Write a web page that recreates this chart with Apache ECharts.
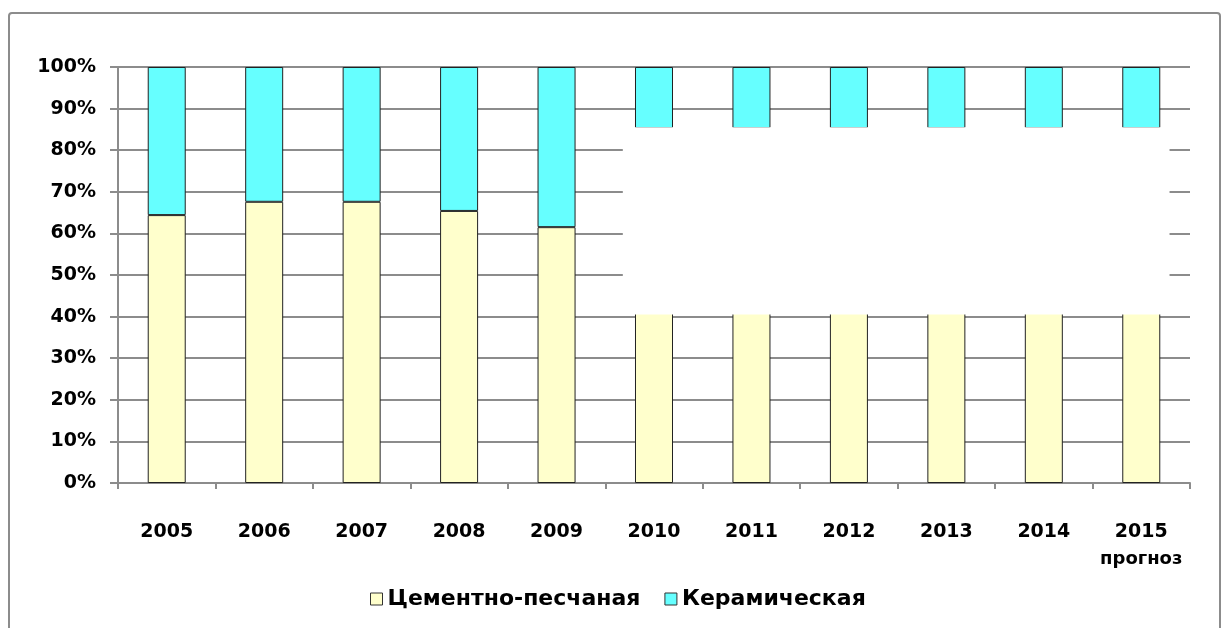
<!DOCTYPE html>
<html>
<head>
<meta charset="utf-8">
<script src="https://cdn.jsdelivr.net/npm/echarts@6/dist/echarts.min.js"></script>
<style>
html,body{margin:0;padding:0;background:#fff;}
#chart{width:1224px;height:628px;}
</style>
</head>
<body>
<div id="chart"></div>
<script>
const categories = ['2005','2006','2007','2008','2009','2010','2011','2012','2013','2014','2015'];
const cementSand = [64.4, 67.6, 67.6, 65.4, 61.5, 85.3, 85.3, 85.3, 85.3, 85.3, 85.3];
const ceramic = [35.6, 32.4, 32.4, 34.6, 38.5, 14.7, 14.7, 14.7, 14.7, 14.7, 14.7];
const yTicks = [0, 10, 20, 30, 40, 50, 60, 70, 80, 90, 100];
const seriesNames = ['Цементно-песчаная', 'Керамическая'];
const forecastNote = 'прогноз';

const FONT = '"DejaVu Sans", Verdana, sans-serif';
const chart = echarts.init(document.getElementById('chart'));

const option = {
  backgroundColor: '#ffffff',
  animation: false,
  grid: { left: 118, right: 34, top: 67, bottom: 145, containLabel: false },
  legend: {
    data: seriesNames,
    left: 365,
    top: 583,
    itemWidth: 12,
    itemHeight: 12,
    itemGap: 24,
    icon: 'rect',
    textStyle: { fontFamily: FONT, fontWeight: 'bold', fontSize: 22, color: '#000' },
    itemStyle: { borderColor: '#333', borderWidth: 1 }
  },
  xAxis: {
    type: 'category',
    data: categories,
    axisLine: { show: true, lineStyle: { color: '#8c8c8c', width: 2 } },
    axisTick: { show: true, alignWithLabel: false, length: 6, lineStyle: { color: '#8c8c8c', width: 2 } },
    axisLabel: {
      margin: 32,
      interval: 0,
      formatter: function (v) {
        return v === categories[categories.length - 1] ? '{a|' + v + '}\n{b|' + forecastNote + '}' : '{a|' + v + '}';
      },
      rich: {
        a: { fontFamily: FONT, fontWeight: 'bold', fontSize: 19, color: '#000', lineHeight: 34 },
        b: { fontFamily: FONT, fontWeight: 'bold', fontSize: 18, color: '#000', lineHeight: 20 }
      }
    },
    splitLine: { show: false }
  },
  yAxis: {
    type: 'value',
    min: 0,
    max: 100,
    interval: 10,
    axisLine: { show: true, lineStyle: { color: '#8c8c8c', width: 2 } },
    axisTick: { show: true, length: 8, lineStyle: { color: '#8c8c8c', width: 2 } },
    axisLabel: {
      margin: 22,
      fontFamily: FONT, fontWeight: 'bold', fontSize: 19, color: '#000',
      formatter: function (v) { return yTicks.indexOf(v) >= 0 ? v + '%' : ''; }
    },
    splitLine: { show: true, lineStyle: { color: '#8c8c8c', width: 2 } }
  },
  series: [
    {
      name: seriesNames[0], type: 'bar', stack: 'total', data: cementSand,
      barWidth: '39%',
      itemStyle: { color: '#FFFFCC', borderColor: '#222', borderWidth: 1 }
    },
    {
      name: seriesNames[1], type: 'bar', stack: 'total', data: ceramic,
      barWidth: '39%',
      itemStyle: { color: '#66FFFF', borderColor: '#222', borderWidth: 1 }
    }
  ]
};
chart.setOption(option);

// white overlay box (present in the reference image) positioned via the chart's scales
const p0 = chart.convertToPixel({ gridIndex: 0 }, [categories[0], 0]);
const p1 = chart.convertToPixel({ gridIndex: 0 }, [categories[1], 0]);
const band = p1[0] - p0[0];
const pL = chart.convertToPixel({ gridIndex: 0 }, [categories[5], cementSand[5]]);
const pR = chart.convertToPixel({ gridIndex: 0 }, [categories[10], 40.5]);
const boxLeft = pL[0] - 0.32 * band;
const boxRight = pR[0] + 0.29 * band;
const boxTop = pL[1] - 1;
const boxBottom = pR[1];

chart.setOption({
  graphic: [
    {
      type: 'rect', z: 100,
      shape: { x: boxLeft, y: boxTop, width: boxRight - boxLeft, height: boxBottom - boxTop },
      style: { fill: '#ffffff', stroke: null }
    },
    {
      type: 'rect', z: 101,
      shape: { x: 9, y: 13, width: 1211, height: 700, r: 3 },
      style: { fill: 'none', stroke: '#8c8c8c', lineWidth: 2 }
    }
  ]
});
</script>
</body>
</html>
